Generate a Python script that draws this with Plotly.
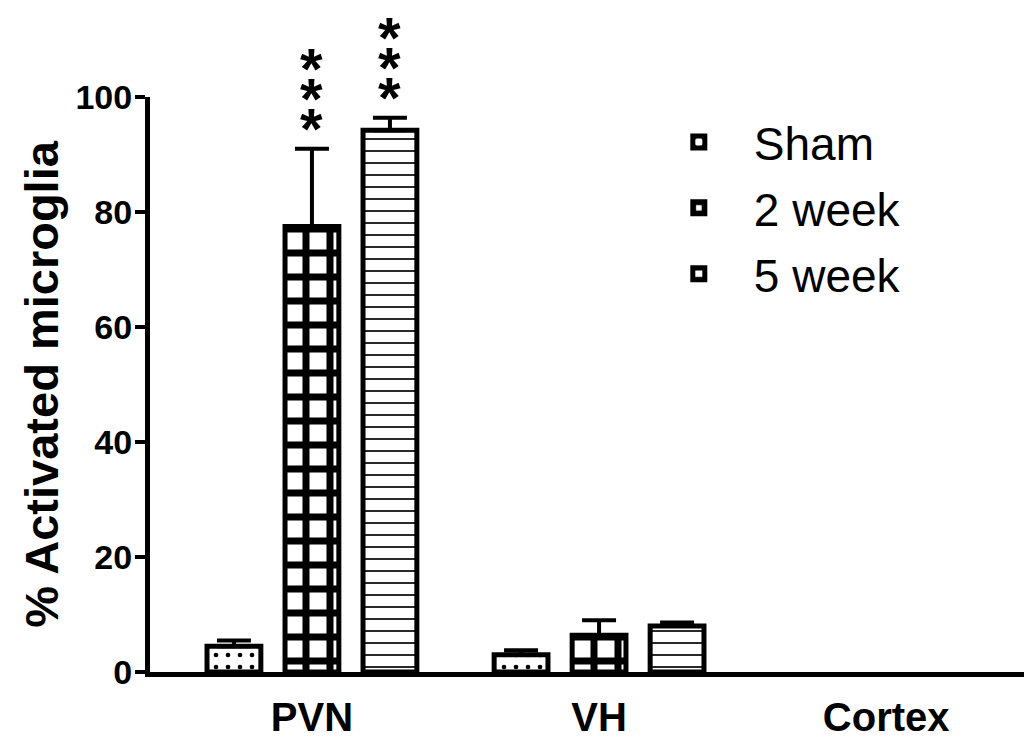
import plotly.graph_objects as go

regions = ["PVN", "VH", "Cortex"]
series = ["Sham", "2 week", "5 week"]
means = {
    "Sham": [4.5, 3.0, None],
    "2 week": [77.5, 6.4, None],
    "5 week": [94.2, 8.0, None],
}
sems = {
    "Sham": [1.0, 0.8, 0.0],
    "2 week": [13.5, 2.6, 0.0],
    "5 week": [2.2, 0.6, 0.0],
}
signif = {
    "Sham": ["", "", ""],
    "2 week": ["***", "", ""],
    "5 week": ["***", "", ""],
}
y_ticks = [0, 20, 40, 60, 80, 100]

patterns = {
    "Sham": dict(shape=".", size=12, solidity=0.12),
    "2 week": dict(shape="+", size=24, solidity=0.5),
    "5 week": dict(shape="-", size=12, solidity=0.14),
}

fig = go.Figure()
for i, s in enumerate(series):
    pat = patterns[s]
    fig.add_trace(go.Bar(
        name=s, x=regions, y=means[s],
        legendgroup=s,
        marker=dict(
            color="white",
            line=dict(color="black", width=5),
            pattern=dict(shape=pat["shape"], size=pat["size"], solidity=pat["solidity"],
                         fgcolor="black", bgcolor="white", fgopacity=1, fillmode="replace"),
        ),
        error_y=dict(type="data", array=sems[s], arrayminus=[0] * len(regions),
                     symmetric=False, color="black", thickness=4, width=17),
    ))

bargap = 0.185
slot = (1 - bargap) / len(series)
for i, s in enumerate(series):
    for j, r in enumerate(regions):
        stars = signif[s][j]
        if not stars:
            continue
        xpos = j + (i - 1) * slot
        top = means[s][j] + sems[s][j]
        txt = "<br>".join('<span style="font-size:58px"><b>' + ch + "</b></span>" for ch in stars)
        fig.add_annotation(
            x=xpos, y=top, xref="x", yref="y", text=txt, showarrow=False,
            yanchor="bottom", yshift=-14,
            font=dict(family="Arial, Liberation Sans", size=23, color="black"),
        )

fig.update_layout(
    width=1024, height=738,
    margin=dict(l=150, r=0, t=97, b=66),
    plot_bgcolor="white", paper_bgcolor="white",
    barmode="group", bargap=bargap, bargroupgap=0.31,
    showlegend=True,
    legend=dict(
        x=0.565, y=0.985, xanchor="left", yanchor="top",
        font=dict(family="Arial, Liberation Sans", size=46, color="black"),
        traceorder="grouped", tracegroupgap=3, itemwidth=100,
        bgcolor="rgba(0,0,0,0)",
    ),
    font=dict(family="Arial, Liberation Sans", color="black"),
)
fig.update_xaxes(
    range=[-0.564, 2.48], automargin=False,
    showline=True, linecolor="black", linewidth=5,
    ticks="", showgrid=False, zeroline=False,
    tickfont=dict(family="Arial, Liberation Sans", size=40, color="black", weight="bold"),
    ticklabelstandoff=6,
)
fig.update_yaxes(
    range=[0, 100], automargin=False,
    tickvals=y_ticks,
    showline=True, linecolor="black", linewidth=5,
    ticks="outside", ticklen=10, tickwidth=4, tickcolor="black",
    showgrid=False, zeroline=False,
    ticklabelstandoff=-4,
    tickfont=dict(family="Arial, Liberation Sans", size=34, color="black", weight="bold"),
    title=dict(text="% Activated microglia", standoff=4,
               font=dict(family="Arial, Liberation Sans", size=47, color="black", weight="bold")),
)

fig.write_html("out.html")
